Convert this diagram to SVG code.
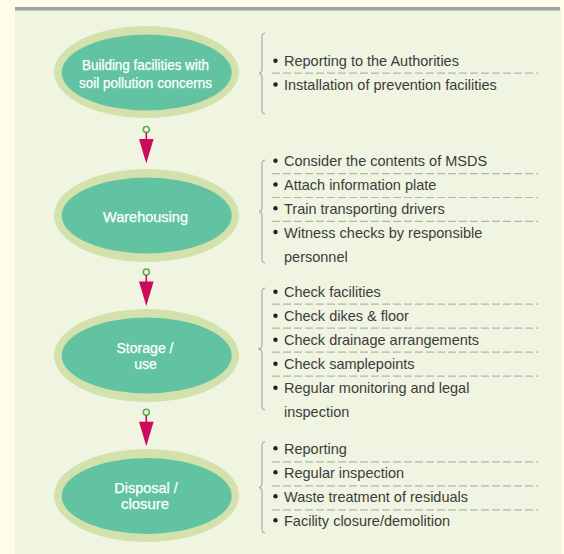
<svg xmlns="http://www.w3.org/2000/svg" width="564" height="554" viewBox="0 0 564 554">
<style>
.ring{fill:#D3E1AD}
.core{fill:#62C3A2}
.lbl{font-family:"Liberation Sans",Arial,sans-serif;font-size:14.5px;fill:#FFFFFF;stroke:#FFFFFF;stroke-width:0.25;text-anchor:middle}
.item{font-family:"Liberation Sans",Arial,sans-serif;font-size:14.5px;fill:#3C3C3C}
.dash{stroke:#B3B6AE;stroke-width:1.2;stroke-dasharray:8 3;fill:none}
.brace{stroke:#9C9C9C;stroke-width:1;fill:none}
.bul{fill:#222222}
.knob{fill:#EFF5E0;stroke:#5BAE47;stroke-width:1.6}
.stem{stroke:#CC0B5B;stroke-width:1.6}
.head{fill:#CC0B5B}
</style>
<defs>
<g id="arrow">
<circle class="knob" cx="0" cy="0" r="3"/>
<line class="stem" x1="0" y1="3" x2="0" y2="10"/>
<polygon class="head" points="-7.3,9.5 7.3,9.5 0,34"/>
</g>
</defs>
<rect x="0" y="0" width="564" height="554" fill="#FFFDEA"/>
<rect x="15" y="7" width="546" height="547" fill="#EFF5E0"/>
<rect x="15" y="7" width="545" height="3.5" fill="#9CA3A3"/>

<g id="connectors">
<use href="#arrow" x="146.3" y="129.5"/>
<use href="#arrow" x="146.3" y="272"/>
<use href="#arrow" x="146.3" y="412.3"/>
</g>

<g id="node1">
<ellipse class="ring" cx="146.5" cy="72" rx="92.5" ry="46"/>
<ellipse class="core" cx="146.7" cy="72.5" rx="85" ry="38"/>
<text class="lbl" x="145.5" y="70" textLength="127" lengthAdjust="spacingAndGlyphs">Building facilities with</text>
<text class="lbl" x="145.5" y="87.5" textLength="133" lengthAdjust="spacingAndGlyphs">soil pollution concerns</text>
</g>
<g id="node2">
<ellipse class="ring" cx="146.5" cy="215.5" rx="92.5" ry="46.5"/>
<ellipse class="core" cx="146.7" cy="215.5" rx="85" ry="38"/>
<text class="lbl" x="145.5" y="221.5" textLength="85" lengthAdjust="spacingAndGlyphs">Warehousing</text>
</g>
<g id="node3">
<ellipse class="ring" cx="146.5" cy="355.5" rx="92.5" ry="46.5"/>
<ellipse class="core" cx="146.7" cy="355.5" rx="85" ry="38"/>
<text class="lbl" x="145" y="353.3" textLength="57" lengthAdjust="spacingAndGlyphs">Storage /</text>
<text class="lbl" x="145.5" y="369.3" textLength="22.5" lengthAdjust="spacingAndGlyphs">use</text>
</g>
<g id="node4">
<ellipse class="ring" cx="146.5" cy="495.5" rx="92.5" ry="46.5"/>
<ellipse class="core" cx="146.7" cy="496" rx="85" ry="38"/>
<text class="lbl" x="146" y="493.3" textLength="63.5" lengthAdjust="spacingAndGlyphs">Disposal /</text>
<text class="lbl" x="145" y="509.3" textLength="48" lengthAdjust="spacingAndGlyphs">closure</text>
</g>

<g id="list1">
<path class="brace" d="M265,33 Q262,33 262,36 L262,70 Q262,73.5 259,73.5 Q262,73.5 262,77 L262,111 Q262,114 265,114"/>
<circle class="bul" cx="275.5" cy="60.7" r="2.2"/>
<text class="item" x="284" y="66">Reporting to the Authorities</text>
<line class="dash" x1="272" y1="73.2" x2="538" y2="73.2"/>
<circle class="bul" cx="275.5" cy="84.5" r="2.2"/>
<text class="item" x="284" y="90">Installation of prevention facilities</text>
</g>

<g id="list2">
<path class="brace" d="M265,160 Q262,160 262,163 L262,208 Q262,211.5 259,211.5 Q262,211.5 262,215 L262,260 Q262,263 265,263"/>
<circle class="bul" cx="275.5" cy="160.7" r="2.2"/>
<text class="item" x="284" y="166">Consider the contents of MSDS</text>
<line class="dash" x1="272" y1="173.7" x2="538" y2="173.7"/>
<circle class="bul" cx="275.5" cy="184.5" r="2.2"/>
<text class="item" x="284" y="190">Attach information plate</text>
<line class="dash" x1="272" y1="197.5" x2="538" y2="197.5"/>
<circle class="bul" cx="275.5" cy="208.3" r="2.2"/>
<text class="item" x="284" y="214">Train transporting drivers</text>
<line class="dash" x1="272" y1="221.4" x2="538" y2="221.4"/>
<circle class="bul" cx="275.5" cy="232" r="2.2"/>
<text class="item" x="284" y="238">Witness checks by responsible</text>
<text class="item" x="284" y="261.5">personnel</text>
</g>

<g id="list3">
<path class="brace" d="M265,288 Q262,288 262,291 L262,345.5 Q262,349 258.5,349 Q262,349 262,352.5 L262,407 Q262,410 265,410"/>
<circle class="bul" cx="275.5" cy="291.7" r="2.2"/>
<text class="item" x="284" y="297">Check facilities</text>
<line class="dash" x1="272" y1="304.2" x2="538" y2="304.2"/>
<circle class="bul" cx="275.5" cy="315.7" r="2.2"/>
<text class="item" x="284" y="321">Check dikes &amp; floor</text>
<line class="dash" x1="272" y1="328.2" x2="538" y2="328.2"/>
<circle class="bul" cx="275.5" cy="339.7" r="2.2"/>
<text class="item" x="284" y="345">Check drainage arrangements</text>
<line class="dash" x1="272" y1="352.2" x2="538" y2="352.2"/>
<circle class="bul" cx="275.5" cy="363.7" r="2.2"/>
<text class="item" x="284" y="369">Check samplepoints</text>
<line class="dash" x1="272" y1="376.2" x2="538" y2="376.2"/>
<circle class="bul" cx="275.5" cy="387.7" r="2.2"/>
<text class="item" x="284" y="393">Regular monitoring and legal</text>
<text class="item" x="284" y="417">inspection</text>
</g>

<g id="list4">
<path class="brace" d="M265,441.7 Q262,441.7 262,444.7 L262,484 Q262,487.5 259,487.5 Q262,487.5 262,491 L262,530 Q262,533 265,533"/>
<circle class="bul" cx="275.5" cy="448.3" r="2.2"/>
<text class="item" x="284" y="453.5">Reporting</text>
<line class="dash" x1="272" y1="461.8" x2="538" y2="461.8"/>
<circle class="bul" cx="275.5" cy="472.2" r="2.2"/>
<text class="item" x="284" y="477.5">Regular inspection</text>
<line class="dash" x1="272" y1="485.8" x2="538" y2="485.8"/>
<circle class="bul" cx="275.5" cy="496.2" r="2.2"/>
<text class="item" x="284" y="501.5">Waste treatment of residuals</text>
<line class="dash" x1="272" y1="509.8" x2="538" y2="509.8"/>
<circle class="bul" cx="275.5" cy="520.2" r="2.2"/>
<text class="item" x="284" y="525.5">Facility closure/demolition</text>
</g>
</svg>
